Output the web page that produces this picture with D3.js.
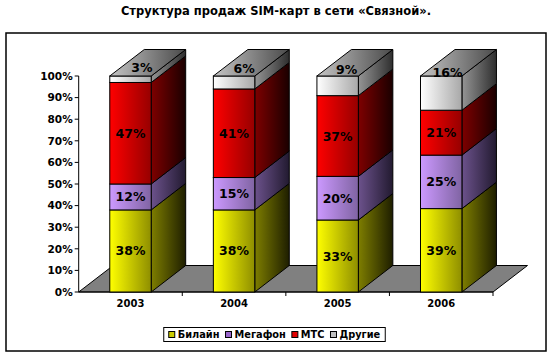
<!DOCTYPE html>
<html><head><meta charset="utf-8">
<script src="https://cdn.jsdelivr.net/npm/d3@7"></script>
<style>
html,body{margin:0;padding:0;background:#fff;}
svg{display:block;font-family:"DejaVu Sans",Verdana,sans-serif;font-weight:bold;}
</style></head>
<body>
<script>
// ---- data ----
const title = "Структура продаж SIM-карт в сети «Связной».";
const years = ["2003","2004","2005","2006"];
const seriesNames = ["Билайн","Мегафон","МТС","Другие"];
const beeline  = [38,38,33,39];
const megafon  = [12,15,20,25];
const mts      = [47,41,37,21];
const others   = [3,6,9,16];
const yTicks = [0,0.1,0.2,0.3,0.4,0.5,0.6,0.7,0.8,0.9,1];

// ---- styles ----
const frontCols = [["#ffff00","#8e8e00"],["#cc99ff","#8064a3"],["#ff0000","#960000"],["#ffffff","#a8a8a8"]];
const sideCols  = [["#7e7e00","#1e1e00"],["#6c528c","#221a30"],["#7e0000","#1a0000"],["#959595","#2e2e2e"]];
const legendCols = ["#cccc00","#9966cc","#e00000","#c0c0c0"];
const topCols = ["#c4c4c4","#4a4a4a"];

const W=551,H=356;
const svg=d3.select("body").append("svg").attr("width",W).attr("height",H);
const defs=svg.append("defs");
function grad(id,c){
  const g=defs.append("linearGradient").attr("id",id).attr("x1","0").attr("x2","1").attr("y1","0").attr("y2","0");
  g.append("stop").attr("offset","0").attr("stop-color",c[0]);
  g.append("stop").attr("offset","1").attr("stop-color",c[1]);
}
frontCols.forEach((c,i)=>grad("f"+i,c));
sideCols.forEach((c,i)=>grad("s"+i,c));
grad("top",topCols);

// frame
svg.append("rect").attr("x",6).attr("y",33).attr("width",540).attr("height",318)
  .attr("fill","#fff").attr("stroke","#000").attr("stroke-width",1.5);

// title
svg.append("text").attr("x",276).attr("y",15).attr("text-anchor","middle")
  .attr("font-size","11.5px").text(title);

// scales
const x0=78.7,x1=493, yBottom=292, yTopPx=76;
const dx=34.5, dy=-26.5;
const xBand=d3.scaleBand().domain(years).range([x0,x1]).padding(0);
const step=xBand.step();
const barW=step*0.4, barOff=step*0.3;
const y=d3.scaleLinear().domain([0,1]).range([yBottom,yTopPx]);

// stack data
const table=years.map((yr,i)=>({year:yr,"Билайн":beeline[i],"Мегафон":megafon[i],"МТС":mts[i],"Другие":others[i]}));
const stack=d3.stack().keys(seriesNames).offset(d3.stackOffsetExpand)(table);

// floor
const floorPts=[[x0,yBottom],[x1,yBottom],[x1+dx,yBottom+dy],[x0+dx,yBottom+dy]];
svg.append("polygon").attr("points",floorPts.map(p=>p.join(",")).join(" "))
  .attr("fill","#808080").attr("stroke","#000").attr("stroke-width",1);

// y axis
svg.append("line").attr("x1",x0).attr("x2",x0).attr("y1",y(0)).attr("y2",y(1)).attr("stroke","#000");
const yg=svg.append("g");
yTicks.forEach(t=>{
  yg.append("line").attr("x1",x0-4).attr("x2",x0).attr("y1",y(t)).attr("y2",y(t)).attr("stroke","#000");
  yg.append("text").attr("x",x0-6).attr("y",y(t)).attr("dy","0.36em").attr("text-anchor","end")
    .attr("font-size","10.5px").text(d3.format(".0%")(t));
});
// x axis ticks & labels
svg.append("line").attr("x1",x0).attr("x2",x1).attr("y1",yBottom).attr("y2",yBottom).attr("stroke","#000");
years.forEach((yr,i)=>{
  const bx=xBand(yr)+step;
  svg.append("line").attr("x1",bx).attr("x2",bx).attr("y1",yBottom).attr("y2",yBottom+4).attr("stroke","#000");
  svg.append("text").attr("x",xBand(yr)+step/2).attr("y",yBottom+15).attr("text-anchor","middle")
    .attr("font-size","10px").text(yr);
});

// bars
const bars=svg.append("g");
years.forEach((yr,i)=>{
  const bx=xBand(yr)+barOff;
  const g=bars.append("g");
  stack.forEach((s,k)=>{
    const d=s[i];
    const yb=y(d[0]), yt=y(d[1]);
    const side=[[bx+barW,yb],[bx+barW+dx,yb+dy],[bx+barW+dx,yt+dy],[bx+barW,yt]];
    g.append("polygon").attr("points",side.map(p=>p.join(",")).join(" "))
      .attr("fill",`url(#s${k})`).attr("stroke","#000").attr("stroke-width",1).attr("stroke-linejoin","round");
    g.append("rect").attr("x",bx).attr("y",yt).attr("width",barW).attr("height",yb-yt)
      .attr("fill",`url(#f${k})`).attr("stroke","#000").attr("stroke-width",1);
    if(k===stack.length-1){
      const top=[[bx,yt],[bx+barW,yt],[bx+barW+dx,yt+dy],[bx+dx,yt+dy]];
      g.append("polygon").attr("points",top.map(p=>p.join(",")).join(" "))
        .attr("fill","url(#top)").attr("stroke","#000").attr("stroke-width",1);
    }
  });
  stack.forEach((s,k)=>{
    const d=s[i];
    const yb=y(d[0]), yt=y(d[1]);
    const val=table[i][s.key];
    const h=yb-yt;
    let lx=bx+barW/2, ly=(yb+yt)/2;
    if(k===stack.length-1){ lx=bx+barW/2+12.5-0.18*h; ly=yt-10+0.2*h; }
    g.append("text").attr("x",lx).attr("y",ly).attr("dy","0.36em").attr("text-anchor","middle")
      .attr("font-size","12.5px").attr("fill","#000").text(val+"%");
  });
});

// legend
const lg=svg.append("g");
let lx=0;
seriesNames.forEach((n,k)=>{
  const it=lg.append("g").attr("transform",`translate(${lx},0)`);
  it.append("rect").attr("x",0).attr("y",-3).attr("width",6).attr("height",6)
    .attr("fill",legendCols[k]).attr("stroke","#000").attr("stroke-width",1);
  const t=it.append("text").attr("x",9).attr("y",0).attr("dy","0.36em").attr("font-size","9.8px").text(n);
  lx+=9+t.node().getComputedTextLength()+6;
});
const lw=lx-6;
const lcx=274.5, lcy=334.5;
const lx0=lcx-lw/2;
lg.attr("transform",`translate(${lx0},${lcy})`);
svg.insert("rect",()=>lg.node()).attr("x",lx0-5).attr("y",lcy-7).attr("width",lw+10).attr("height",14)
  .attr("fill","#fff").attr("stroke","#000").attr("stroke-width",1);
</script>
</body></html>
